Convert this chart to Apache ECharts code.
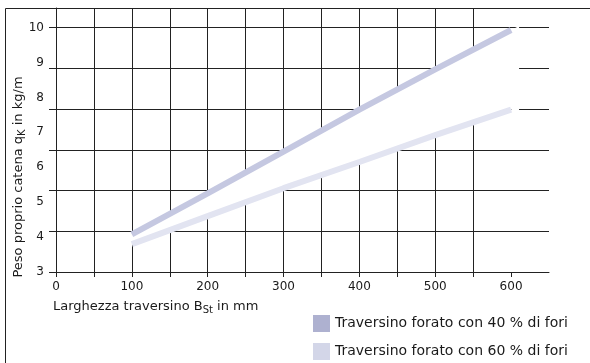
<!DOCTYPE html>
<html>
<head>
<meta charset="utf-8">
<script src="https://cdn.jsdelivr.net/npm/echarts@6/dist/echarts.min.js"></script>
<style>
html,body{margin:0;padding:0;background:#fff;}
#c{width:590px;height:363px;}
</style>
</head>
<body>
<div id="c"></div>
<script>
// ---- data ----
const xValues = [100, 200, 300, 400, 500, 600];
const fori40 = [4.08, 5.25, 6.45, 7.65, 8.8, 9.93];
const fori60 = [3.8, 4.6, 5.4, 6.15, 6.92, 7.65];
const seriesNames = ['Traversino forato con 40 % di fori', 'Traversino forato con 60 % di fori'];
const xTickLabels = [0, 100, 200, 300, 400, 500, 600];
const yTickLabels = [3, 4, 5, 6, 7, 8, 9, 10];
const xTickValues = [0, 50, 100, 150, 200, 250, 300, 350, 400, 450, 500, 550, 600];

const FONT = '"DejaVu Sans", "Liberation Sans", Arial, sans-serif';
const TXT = '#1a1a1a';
const GRID = '#222';

const pairs = (ys) => xValues.map((x, i) => [x, ys[i]]);

const chart = echarts.init(document.getElementById('c'), null, {renderer: 'canvas'});
chart.setOption({
  animation: false,
  backgroundColor: '#fff',
  grid: {left: 56, right: 41, top: 8, bottom: 91, containLabel: false},
  xAxis: {
    type: 'value', min: 0, max: 650, interval: 50,
    axisLine: {show: true, lineStyle: {color: GRID, width: 1}},
    axisTick: {show: true, length: 5, customValues: xTickValues, lineStyle: {color: GRID}},
    axisLabel: {
      customValues: xTickLabels, margin: 9,
      fontFamily: FONT, fontSize: 12, color: TXT,
      formatter: v => (xTickLabels.indexOf(v) >= 0 ? String(v) : '')
    },
    splitLine: {show: true, showMinLine: false, showMaxLine: false, lineStyle: {color: GRID, width: 1}}
  },
  yAxis: [
    {
      type: 'value', min: 3, max: 10.56, interval: 1,
      axisLine: {show: false}, axisTick: {show: false}, splitLine: {show: false},
      axisLabel: {
        showMaxLabel: false, margin: 12,
        fontFamily: FONT, fontSize: 12, color: TXT,
        formatter: v => (yTickLabels.indexOf(v) >= 0 ? String(v) : '')
      }
    },
    {
      type: 'value', min: 3, max: 10.56, interval: 7 / 6, position: 'left',
      axisLine: {show: true, lineStyle: {color: GRID, width: 1}},
      axisTick: {show: true, length: 7, lineStyle: {color: GRID}},
      axisLabel: {show: false},
      splitLine: {show: true, lineStyle: {color: GRID, width: 1}}
    }
  ],
  legend: {
    orient: 'vertical', left: 313, top: 315, padding: 0, height: 60,
    icon: 'rect', itemWidth: 17, itemHeight: 17, itemGap: 11,
    textStyle: {fontFamily: FONT, fontSize: 14, color: TXT},
    data: [
      {name: seriesNames[0], itemStyle: {color: '#aeb1d0'}},
      {name: seriesNames[1], itemStyle: {color: '#d3d6e8'}}
    ]
  },
  series: [
    {
      name: 'gap', type: 'custom', silent: true, z: 1,
      data: [[0]],
      renderItem: function (params, api) {
        const up = xValues.map((x, i) => api.coord([x, fori40[i]]));
        const lo = xValues.map((x, i) => api.coord([x, fori60[i]]));
        const uEnd = up[up.length - 1], lEnd = lo[lo.length - 1];
        const pts = up.concat([[uEnd[0] + 8, uEnd[1] - 4], [lEnd[0] + 8, lEnd[1] + 4]], lo.slice().reverse());
        return {type: 'polygon', shape: {points: pts}, style: {fill: '#ffffff', stroke: null}};
      }
    },
    {
      name: seriesNames[0], type: 'line', data: pairs(fori40), z: 3,
      showSymbol: false, symbol: 'none',
      itemStyle: {color: '#aeb1d0'},
      lineStyle: {width: 6, color: '#c5c8e1', cap: 'butt'}
    },
    {
      name: seriesNames[1], type: 'line', data: pairs(fori60), z: 3,
      showSymbol: false, symbol: 'none',
      itemStyle: {color: '#d3d6e8'},
      lineStyle: {width: 6, color: '#e2e4f1', cap: 'butt'}
    }
  ],
  graphic: [
    {
      type: 'polyline', silent: true, z: 10,
      shape: {points: [[5.5, 363], [5.5, 8.5], [590, 8.5]]},
      style: {stroke: GRID, lineWidth: 1, fill: null}
    },
    {
      type: 'text', left: 53, top: 300, silent: true,
      style: {
        text: 'Larghezza traversino B{sub|St} in mm',
        font: '13px ' + FONT, fill: TXT,
        rich: {sub: {fontSize: 10, fontFamily: FONT, fill: TXT, padding: [7, 0, 0, 0], verticalAlign: 'bottom'}}
      }
    },
    {
      type: 'text', x: 19, y: 177, rotation: Math.PI / 2, silent: true,
      style: {
        text: 'Peso proprio catena q{sub|K} in kg/m',
        font: '13px ' + FONT, fill: TXT, align: 'center', verticalAlign: 'middle',
        rich: {sub: {fontSize: 10, fontFamily: FONT, fill: TXT, padding: [7, 0, 0, 0], verticalAlign: 'bottom'}}
      }
    }
  ]
});
</script>
</body>
</html>
